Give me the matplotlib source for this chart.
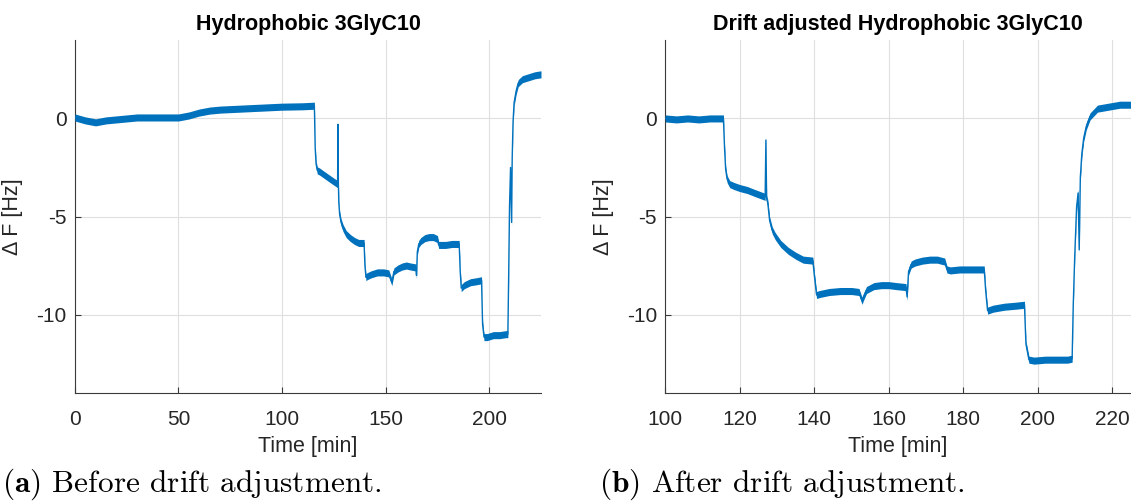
import numpy as np
import matplotlib
matplotlib.use("Agg")
import matplotlib.pyplot as plt

plt.rcParams['font.family'] = ['Liberation Sans', 'DejaVu Sans']
plt.rcParams['mathtext.fontset'] = 'cm'
plt.rcParams['axes.unicode_minus'] = False

# ---------------- data ----------------
# (a) raw trace: time [min], delta F [Hz]
t_raw = [0, 5, 10, 15, 20, 30, 40, 50, 55, 60, 65, 70, 80, 90, 100, 110, 115.6,
         116.0, 116.4, 117.0, 118, 120, 122, 124, 126.8, 127.0, 127.2, 127.4, 127.8, 128.5, 129.5, 131, 133, 135, 137, 139.6,
         140.0, 140.5, 141, 143, 146, 149, 151.5, 152.5, 153.0, 154, 156, 158, 160, 162, 164.6, 164.9, 165.3, 166, 167, 169, 171, 173, 175,
         175.6, 176.5, 179, 182, 185.5,
         186.0, 186.5, 188, 191, 194, 196.3, 196.8, 197.5, 199, 202, 205, 208, 209.0,
         209.4, 209.8, 210.3, 210.8, 211.1, 211.5, 212, 213, 214, 216, 219, 222, 225]
f_raw = [0.05, -0.1, -0.2, -0.1, -0.05, 0.05, 0.05, 0.05, 0.15, 0.3, 0.4, 0.45, 0.5, 0.55, 0.6, 0.62, 0.65,
         -1.5, -2.3, -2.65, -2.7, -2.85, -3.0, -3.15, -3.35, -0.3, -3.4, -4.3, -4.9, -5.3, -5.6, -5.9, -6.1, -6.25, -6.35, -6.35,
         -7.5, -8.1, -8.05, -7.95, -7.85, -7.85, -7.9, -8.2, -8.35, -7.8, -7.65, -7.55, -7.5, -7.55, -7.6, -8.0, -6.8, -6.4, -6.25, -6.1, -6.05, -6.05, -6.15,
         -6.45, -6.45, -6.45, -6.4, -6.4,
         -7.8, -8.65, -8.5, -8.35, -8.3, -8.25, -10.5, -11.15, -11.15, -11.05, -11.05, -11.0, -11.0,
         -8.0, -4.5, -2.5, -5.3, -2.0, -0.2, 0.8, 1.4, 1.8, 2.0, 2.1, 2.2, 2.25]

# (b) drift adjusted trace
t_adj = [100, 103, 106, 109, 112, 115.6, 115.9, 116.2, 116.6, 117.3, 118.5, 120, 122, 124, 126.8, 127.0, 127.2,
         127.5, 128, 128.7, 129.5, 131, 133, 135, 137, 139.6, 140.0, 140.6, 141.5, 144, 147, 150, 152, 152.8, 153.2,
         154, 156, 158, 160, 162, 164.6, 164.9, 165.3, 166, 167, 169, 171, 173, 175, 175.6, 176.5, 179, 182, 185.6,
         186.0, 186.5, 188, 191, 194, 196.4, 196.8, 197.6, 199, 202, 205, 208, 209.2, 209.5, 209.9, 210.4, 210.8,
         211.1, 211.4, 211.8, 212.3, 213, 214, 216, 219, 222, 225]
f_adj = [0.0, -0.05, 0.0, -0.05, 0.0, 0.0, -1.5, -2.6, -3.1, -3.35, -3.45, -3.55, -3.65, -3.8, -4.0, -1.1, -4.1,
         -4.3, -5.2, -5.7, -6.0, -6.4, -6.75, -7.0, -7.2, -7.25, -8.0, -9.0, -8.95, -8.85, -8.8, -8.8, -8.85, -9.3, -9.1,
         -8.75, -8.55, -8.5, -8.5, -8.55, -8.6, -9.1, -7.8, -7.45, -7.35, -7.25, -7.2, -7.2, -7.3, -7.7, -7.75, -7.7, -7.7, -7.7,
         -8.8, -9.8, -9.7, -9.6, -9.55, -9.5, -11.5, -12.3, -12.35, -12.3, -12.3, -12.3, -12.25, -9.5, -7.0, -4.5, -3.8,
         -6.7, -3.0, -1.8, -1.0, -0.4, 0.1, 0.5, 0.6, 0.7, 0.7]

noise_half = 0.18  # half thickness of noise band [Hz]

titles = ["Hydrophobic 3GlyC10", "Drift adjusted Hydrophobic 3GlyC10"]
captions = [r"$\mathbf{(a)}$ Before drift adjustment.", r"$\mathbf{(b)}$ After drift adjustment."]
xticks_a = [0, 50, 100, 150, 200]
xticks_b = [100, 120, 140, 160, 180, 200, 220]
yticks = [-10, -5, 0]

W, H = 1131, 503
fig = plt.figure(figsize=(W / 100, H / 100), dpi=100)

blue = '#0072BD'
dark = '#262626'

def style(ax, xlim, xticks):
    ax.set_xlim(*xlim)
    ax.set_ylim(-14, 4)
    ax.set_xticks(xticks)
    ax.set_yticks(yticks)
    ax.grid(True, color='#DFDFDF', lw=0.8)
    ax.set_axisbelow(True)
    for s in ['top', 'right']:
        ax.spines[s].set_visible(False)
    for s in ['left', 'bottom']:
        ax.spines[s].set_color('#3a3a3a')
        ax.spines[s].set_linewidth(0.8)
    ax.tick_params(direction='in', length=4, width=0.8, colors='#3a3a3a',
                   labelcolor=dark, labelsize=15)
    ax.tick_params(axis='x', pad=12)
    ax.tick_params(axis='y', pad=6)
    ax.set_xlabel("Time [min]", fontsize=15.5, color=dark, labelpad=5)
    ax.set_ylabel("Δ F [Hz]", fontsize=15.5, color=dark)
    ax.yaxis.set_label_coords(-0.111, 0.5)

def trace(ax, t, f):
    t = np.asarray(t, float)
    f = np.asarray(f, float)
    ax.fill_between(t, f - noise_half, f + noise_half, color=blue, lw=0, zorder=3)
    ax.plot(t, f, color=blue, lw=1.0, zorder=4)

ax1 = fig.add_axes([74.9 / W, 1 - 393 / H, (541 - 74.9) / W, (393 - 40) / H])
trace(ax1, t_raw, f_raw)
style(ax1, (0, 225), xticks_a)
ax1.set_title(titles[0], fontsize=15.5, fontweight='bold', pad=7)

ax2 = fig.add_axes([665.3 / W, 1 - 393 / H, (1131 - 665.3) / W, (393 - 40) / H])
trace(ax2, t_adj, f_adj)
style(ax2, (100, 225), xticks_b)
ax2.set_title(titles[1], fontsize=15.5, fontweight='bold', pad=7)

fig.text(0.002, 0.022, captions[0], family='cmr10', fontsize=22.5, va='baseline', ha='left')
fig.text(599 / W, 0.022, captions[1], family='cmr10', fontsize=22.5, va='baseline', ha='left')

fig.savefig("out.png", dpi=100)
